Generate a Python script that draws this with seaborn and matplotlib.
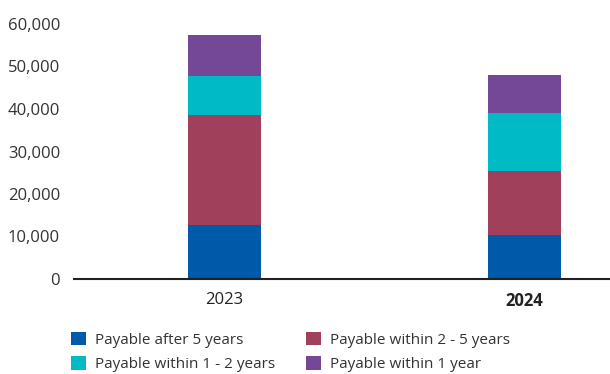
import matplotlib
matplotlib.use("Agg")
import matplotlib.pyplot as plt
from matplotlib.patches import Patch
import numpy as np
import pandas as pd
import seaborn as sns

years = ["2023", "2024"]
series = ["Payable after 5 years", "Payable within 2 - 5 years",
          "Payable within 1 - 2 years", "Payable within 1 year"]
after_5 = [12700, 10350]
within_2_5 = [25900, 15100]
within_1_2 = [9100, 13500]
within_1 = [9600, 9100]
colors = ["#005AAA", "#A0405B", "#00BAC6", "#744897"]
yticks = [0, 10000, 20000, 30000, 40000, 50000, 60000]

sns.set_theme(style="white")
plt.rcParams["font.family"] = ["Open Sans", "DejaVu Sans"]

values = [after_5, within_2_5, within_1_2, within_1]
cum = np.cumsum(np.array(values), axis=0)

fig = plt.figure(figsize=(6.10, 3.74), dpi=100)
ax = fig.add_axes([74 / 610, 1 - 279 / 374, 1 - 74 / 610, (279 - 24) / 374])

# stacked bars: draw cumulative totals from the top segment down
for i in range(len(series) - 1, -1, -1):
    df = pd.DataFrame({"year": years, "value": cum[i]})
    sns.barplot(data=df, x="year", y="value", color=colors[i], width=0.243,
                saturation=1, ax=ax, linewidth=0, edgecolor="none")

ax.set_xlim(-0.5017, 1.285)
ax.set_ylim(0, 60000)
ax.set_yticks(yticks)
ax.set_yticklabels([f"{v:,}" for v in yticks])
ax.set_xlabel("")
ax.set_ylabel("")
ax.tick_params(axis="y", length=0, pad=10, labelsize=12, labelcolor="#333333")
ax.tick_params(axis="x", length=0, pad=9, labelsize=12, labelcolor="#222222")
for lbl in ax.get_xticklabels():
    if lbl.get_text() == "2024":
        lbl.set_fontweight("bold")
for s in ["top", "right", "left"]:
    ax.spines[s].set_visible(False)
ax.spines["bottom"].set_color("#222222")
ax.spines["bottom"].set_linewidth(1.5)

# legend filled row by row: two entries per row
order = [0, 2, 1, 3]
handles = [Patch(facecolor=colors[k], edgecolor="none") for k in order]
labels = [series[k] for k in order]
fig.legend(handles, labels, ncol=2, loc="upper left",
           bbox_to_anchor=(57 / 610, 1 - 318 / 374), frameon=False,
           fontsize=11, handlelength=1.0, handleheight=1.0,
           handletextpad=0.6, columnspacing=2.0, labelspacing=0.55,
           labelcolor="#333333")

fig.savefig("out.png", dpi=100)
